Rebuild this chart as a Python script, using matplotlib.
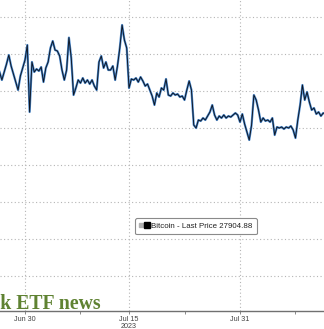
import matplotlib
matplotlib.use("Agg")
import matplotlib.pyplot as plt
import matplotlib.dates as mdates
from matplotlib.lines import Line2D
from matplotlib.legend_handler import HandlerTuple
import pandas as pd

# ---- data ----
START = "2023-06-26 08:00"
STEP = "8h"
PRICES = [
    30518, 30301, 30518, 30734, 30978, 30680, 30463, 30246, 30030, 30409,
    30626, 30843, 31249, 29434, 30789, 30518, 30599, 30545, 30653, 30246,
    30626, 30789, 31168, 31358, 31114, 31087, 30951, 30572, 30301, 30572,
    31450, 30900, 29894, 30084, 30301, 30219, 30355, 30219, 30301, 30192,
    30301, 30138, 30030, 30789, 30951, 30626, 30789, 30572, 30572, 30680,
    30301, 30680, 31168, 31791, 31385, 31168, 30084, 30328, 30301, 30355,
    30246, 30382, 30273, 30138, 30192, 30030, 29867, 29623, 29949, 29840,
    30084, 30030, 30328, 29894, 29867, 29949, 29894, 29921, 29840, 29867,
    29759, 30030, 30273, 30030, 29081, 29000, 29217, 29190, 29271, 29217,
    29325, 29434, 29623, 29352, 29217, 29325, 29271, 29352, 29271, 29325,
    29298, 29352, 29406, 29352, 29162, 29379, 29108, 28892, 28675, 29081,
    29894, 29759, 29488, 29162, 29271, 29190, 29217, 29162, 29271, 28810,
    29027, 29000, 29027, 28973, 29027, 29000, 29054, 28946, 28729, 29217,
    29623, 30165, 29759, 29976, 29704, 29488, 29542, 29379, 29434, 29325,
    29406, 29379, 29406,
]
LAST_PRICE = 27904.88
SERIES_NAME = "Bitcoin - Last Price"
MAJOR_DATES = ["2023-06-30", "2023-07-15", "2023-07-31"]
MAJOR_LABELS = ["Jun 30", "Jul 15\n2023", "Jul 31"]
MINOR_DATES = ["2023-07-08", "2023-07-23", "2023-08-08"]
Y_GRID = [25000, 26000, 27000, 28000, 29000, 30000, 31000, 32000]
ANNOTATION = "BlackRock ETF news"

dates = pd.date_range(START, periods=len(PRICES), freq=STEP)

W, H = 324, 329
fig = plt.figure(figsize=(W / 100, H / 100), dpi=100)
fig.patch.set_facecolor("white")
ax = fig.add_axes([0, 18 / H, 1, 311 / H])

ax.plot(dates, PRICES, color="#4a88cc", lw=1.6, solid_joinstyle="round", zorder=3)
ax.plot(dates, PRICES, color="#0d1420", lw=0.65, zorder=4)

ax.set_xlim(pd.Timestamp("2023-06-26 09:30"), pd.Timestamp("2023-08-12 02:40"))
ax.set_ylim(24041, 32469)

ax.set_yticks(Y_GRID)
ax.tick_params(axis="y", left=False, labelleft=False)
ax.set_xticks([mdates.date2num(pd.Timestamp(d)) for d in MAJOR_DATES])
ax.set_xticklabels(MAJOR_LABELS, fontsize=5.2, family="Liberation Sans", color="#444444",
                   linespacing=1.05)
ax.set_xticks([mdates.date2num(pd.Timestamp(d)) for d in MINOR_DATES], minor=True)
ax.tick_params(axis="x", which="both", length=2.5, width=0.6, color="#777777", pad=1.0)

ax.grid(True, which="major", color="#b5b5b5", linestyle=(0, (1, 2.2)), lw=0.8)
for s in ["top", "left", "right"]:
    ax.spines[s].set_visible(False)
ax.spines["bottom"].set_color("#707070")
ax.spines["bottom"].set_linewidth(1.0)

icon = Line2D([], [], marker="s", color="#b0b0b0", linestyle="none", markersize=2.2)
square = Line2D([], [], marker="s", color="black", linestyle="none", markersize=4.2)
leg = ax.legend([(icon, square)], [f"{SERIES_NAME} {LAST_PRICE:.2f}"], loc="upper left",
                handler_map={tuple: HandlerTuple(ndivide=None, pad=0.3)},
                bbox_to_anchor=(135 / W, 1 - 218 / 311), bbox_transform=ax.transAxes,
                prop={"family": "Liberation Sans", "size": 5.7}, frameon=True,
                fancybox=True, edgecolor="#8a8a8a", framealpha=1, borderpad=0.55,
                handlelength=1.2, handletextpad=0.25, borderaxespad=0)
leg.get_frame().set_linewidth(0.8)
for t in leg.get_texts():
    t.set_color("#222222")

fig.text(100.5 / W, 1 - 309 / H, ANNOTATION, ha="right", va="baseline",
         fontsize=14.2, family="Liberation Serif", weight="bold", color="#5f8232")

fig.savefig("out.png", dpi=100)
